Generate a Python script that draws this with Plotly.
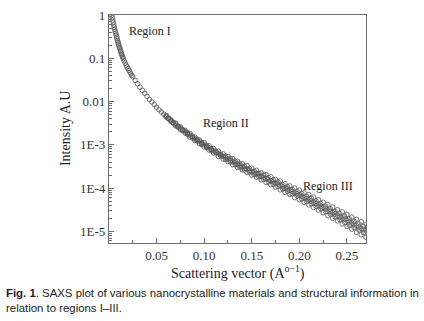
import math
import plotly.graph_objects as go

# ---- data ----
q_main = [0.003, 0.0035, 0.004, 0.0045, 0.005, 0.0055, 0.006, 0.0065, 0.007, 0.0075,
          0.008, 0.0085, 0.009, 0.0095, 0.010, 0.0105, 0.011, 0.0115, 0.012, 0.0125,
          0.013, 0.0135, 0.014, 0.0145, 0.015, 0.016, 0.017, 0.018, 0.019, 0.020,
          0.021, 0.022, 0.023, 0.024, 0.025, 0.0275, 0.030, 0.0325, 0.035, 0.0375,
          0.040, 0.0425, 0.045, 0.0475, 0.050, 0.0525, 0.055, 0.0575, 0.060, 0.0625,
          0.065, 0.0675, 0.070, 0.0725, 0.075, 0.0775, 0.080, 0.0825, 0.085, 0.0875,
          0.090, 0.0925, 0.095, 0.0975, 0.100, 0.1025, 0.105, 0.1075, 0.110, 0.1125,
          0.115, 0.1175, 0.120, 0.1225, 0.125, 0.1275, 0.130, 0.1325, 0.135, 0.1375,
          0.140, 0.1425, 0.145, 0.1475, 0.150, 0.1525, 0.155, 0.1575, 0.160, 0.1625,
          0.165, 0.1675, 0.170, 0.1725, 0.175, 0.1775, 0.180, 0.1825, 0.185, 0.1875,
          0.190, 0.1925, 0.195, 0.1975, 0.200, 0.2025, 0.205, 0.2075, 0.210, 0.2125,
          0.215, 0.2175, 0.220, 0.2225, 0.225, 0.2275, 0.230, 0.2325, 0.235, 0.2375,
          0.240, 0.2425, 0.245, 0.2475, 0.250, 0.2525, 0.255, 0.2575, 0.260, 0.2625,
          0.265, 0.2675, 0.270]

i_main = [0.977, 0.871, 0.759, 0.676, 0.589, 0.525, 0.468, 0.417, 0.380, 0.347,
          0.309, 0.282, 0.257, 0.234, 0.214, 0.195, 0.178, 0.166, 0.151, 0.141,
          0.129, 0.120, 0.112, 0.105, 0.0977, 0.0871, 0.0776, 0.0692, 0.0631, 0.0575,
          0.0525, 0.0479, 0.0437, 0.0398, 0.0372, 0.0309, 0.0257, 0.0214, 0.0182, 0.0155,
          0.0132, 0.0112, 0.00977, 0.00851, 0.00741, 0.00646, 0.00575, 0.00513, 0.00457, 0.00407,
          0.00363, 0.00324, 0.00295, 0.00263, 0.00240, 0.00219, 0.00200, 0.00182, 0.00166, 0.00151,
          0.00138, 0.00129, 0.00117, 0.00107, 0.00100, 9.12e-4, 8.51e-4, 7.76e-4, 7.24e-4, 6.76e-4,
          6.17e-4, 5.75e-4, 5.37e-4, 5.01e-4, 4.68e-4, 4.37e-4, 4.07e-4, 3.80e-4, 3.55e-4, 3.31e-4,
          3.09e-4, 2.88e-4, 2.75e-4, 2.57e-4, 2.40e-4, 2.24e-4, 2.14e-4, 2.00e-4, 1.86e-4, 1.78e-4,
          1.66e-4, 1.55e-4, 1.48e-4, 1.38e-4, 1.29e-4, 1.23e-4, 1.15e-4, 1.07e-4, 1.00e-4, 9.55e-5,
          8.91e-5, 8.32e-5, 7.76e-5, 7.41e-5, 6.92e-5, 6.46e-5, 6.03e-5, 5.62e-5, 5.37e-5, 5.01e-5,
          4.68e-5, 4.37e-5, 4.07e-5, 3.80e-5, 3.55e-5, 3.31e-5, 3.09e-5, 2.88e-5, 2.69e-5, 2.51e-5,
          2.34e-5, 2.19e-5, 2.04e-5, 1.91e-5, 1.78e-5, 1.66e-5, 1.55e-5, 1.45e-5, 1.35e-5, 1.26e-5,
          1.17e-5, 1.10e-5, 1.02e-5]

q_band = [0.060, 0.065, 0.070, 0.075, 0.080, 0.085, 0.090, 0.095, 0.100, 0.105,
          0.110, 0.115, 0.120, 0.125, 0.130, 0.135, 0.140, 0.145, 0.150, 0.155,
          0.160, 0.165, 0.170, 0.175, 0.180, 0.185, 0.190, 0.195, 0.200, 0.205,
          0.210, 0.215, 0.220, 0.225, 0.230, 0.235, 0.240, 0.245, 0.250, 0.255,
          0.260, 0.265, 0.270]

i_upper = [0.00479, 0.00380, 0.00316, 0.00257, 0.00214, 0.00182, 0.00151, 0.00129, 0.00112, 9.55e-4,
           8.13e-4, 7.08e-4, 6.17e-4, 5.37e-4, 4.79e-4, 4.17e-4, 3.63e-4, 3.31e-4, 2.88e-4, 2.57e-4,
           2.24e-4, 2.04e-4, 1.82e-4, 1.58e-4, 1.45e-4, 1.26e-4, 1.12e-4, 1.00e-4, 8.91e-5, 7.76e-5,
           7.08e-5, 6.17e-5, 5.37e-5, 4.68e-5, 4.17e-5, 3.63e-5, 3.16e-5, 2.82e-5, 2.45e-5, 2.14e-5,
           1.91e-5, 1.66e-5, 1.45e-5]

i_lower = [0.00437, 0.00347, 0.00275, 0.00224, 0.00186, 0.00151, 0.00126, 0.00107, 8.91e-4, 7.59e-4,
           6.46e-4, 5.37e-4, 4.68e-4, 4.07e-4, 3.47e-4, 3.02e-4, 2.63e-4, 2.29e-4, 2.00e-4, 1.78e-4,
           1.55e-4, 1.35e-4, 1.20e-4, 1.05e-4, 9.12e-5, 7.94e-5, 7.08e-5, 6.03e-5, 5.37e-5, 4.68e-5,
           4.07e-5, 3.55e-5, 3.09e-5, 2.69e-5, 2.29e-5, 2.00e-5, 1.74e-5, 1.48e-5, 1.29e-5, 1.12e-5,
           9.55e-6, 8.32e-6, 7.24e-6]

q_band2 = [0.0625, 0.0675, 0.0725, 0.0775, 0.0825, 0.0875, 0.0925, 0.0975, 0.1025, 0.1075,
           0.1125, 0.1175, 0.1225, 0.1275, 0.1325, 0.1375, 0.1425, 0.1475, 0.1525, 0.1575,
           0.1625, 0.1675, 0.1725, 0.1775, 0.1825, 0.1875, 0.1925, 0.1975, 0.2025, 0.2075,
           0.2125, 0.2175, 0.2225, 0.2275, 0.2325, 0.2375, 0.2425, 0.2475, 0.2525, 0.2575,
           0.2625, 0.2675]

i_upper_mid = [0.00417, 0.00331, 0.00269, 0.00224, 0.00191, 0.00158, 0.00135, 0.00112, 9.55e-4, 8.13e-4,
               7.08e-4, 6.03e-4, 5.50e-4, 4.79e-4, 4.17e-4, 3.63e-4, 3.16e-4, 2.82e-4, 2.45e-4, 2.19e-4,
               2.00e-4, 1.74e-4, 1.55e-4, 1.38e-4, 1.20e-4, 1.07e-4, 9.33e-5, 8.32e-5, 7.41e-5, 6.46e-5,
               5.75e-5, 5.01e-5, 4.37e-5, 3.80e-5, 3.31e-5, 2.88e-5, 2.57e-5, 2.24e-5, 1.95e-5, 1.70e-5,
               1.48e-5, 1.29e-5]

i_lower_mid = [0.00398, 0.00316, 0.00257, 0.00214, 0.00174, 0.00145, 0.00123, 0.00102, 8.71e-4, 7.41e-4,
               6.46e-4, 5.50e-4, 4.57e-4, 3.98e-4, 3.47e-4, 3.02e-4, 2.63e-4, 2.34e-4, 2.04e-4, 1.82e-4,
               1.58e-4, 1.38e-4, 1.23e-4, 1.10e-4, 9.55e-5, 8.51e-5, 7.41e-5, 6.61e-5, 5.62e-5, 4.90e-5,
               4.37e-5, 3.80e-5, 3.31e-5, 2.88e-5, 2.51e-5, 2.19e-5, 1.86e-5, 1.62e-5, 1.41e-5, 1.23e-5,
               1.07e-5, 9.33e-6]

x_tickvals = [0.05, 0.10, 0.15, 0.20, 0.25]
x_ticktext = ["0.05", "0.10", "0.15", "0.20", "0.25"]
y_tickvals = [1, 0.1, 0.01, 1e-3, 1e-4, 1e-5]
y_ticktext = ["1", "0.1", "0.01", "1E-3", "1E-4", "1E-5"]
region_labels = ["Region I", "Region II", "Region III"]
region_x = [0.0427, 0.1232, 0.2304]
region_y = [0.42, 3.2e-3, 1.14e-4]

# ---- styling ----
SERIF = "Liberation Serif, Times New Roman, serif"
SANS = "Liberation Sans, Arial, sans-serif"
AX = "#6e6e6e"
MK = "#555555"

marker = dict(symbol="circle-open", size=4.6, color=MK, line=dict(width=0.8, color=MK))

fig = go.Figure()
series = [(q_band, i_upper), (q_band, i_lower), (q_band2, i_upper_mid),
          (q_band2, i_lower_mid), (q_main, i_main)]
for xs, ys in series:
    fig.add_trace(go.Scatter(x=xs, y=ys, mode="markers", marker=marker,
                             showlegend=False, hoverinfo="skip"))

y_minor = [m * 10.0 ** e for e in range(-6, 0) for m in range(2, 10)]

fig.update_layout(
    width=424, height=321,
    margin=dict(l=109, r=58, t=8, b=78),
    paper_bgcolor="white", plot_bgcolor="white",
    font=dict(family=SERIF, size=13, color="#333"),
    xaxis=dict(
        range=[0.0, 0.27], showgrid=False, zeroline=False,
        showline=True, linecolor=AX, linewidth=1.3, mirror=True,
        ticks="inside", ticklen=5, tickwidth=1, tickcolor=AX,
        tickvals=x_tickvals, ticktext=x_ticktext,
        tickfont=dict(family=SERIF, size=13, color="#333"),
        minor=dict(tickvals=[0.025, 0.075, 0.125, 0.175, 0.225], ticks="inside",
                   ticklen=3, tickcolor=AX, tickwidth=1),
    ),
    yaxis=dict(
        type="log", range=[-5.27, 0.0], showgrid=False, zeroline=False,
        showline=True, linecolor=AX, linewidth=1.3, mirror=True,
        ticks="inside", ticklen=5, tickwidth=1, tickcolor=AX,
        tickvals=y_tickvals, ticktext=y_ticktext,
        tickfont=dict(family=SERIF, size=13, color="#333"),
        minor=dict(tickvals=y_minor, ticks="inside", ticklen=2.5,
                   tickcolor=AX, tickwidth=1),
    ),
)

for t, xv, yv in zip(region_labels, region_x, region_y):
    fig.add_annotation(x=xv, y=math.log10(yv), xref="x", yref="y", text=t,
                       xanchor="center", yanchor="middle",
                       showarrow=False, font=dict(family=SERIF, size=12, color="#222"))

fig.add_annotation(xref="paper", yref="paper", x=0.5, y=-0.128,
                   xanchor="center", yanchor="middle",
                   text="Scattering vector (A<sup>o\u22121</sup>)", showarrow=False,
                   font=dict(family=SERIF, size=14, color="#222"))
fig.add_annotation(xref="paper", yref="paper", x=-0.171, y=0.5, textangle=-90,
                   xanchor="center", yanchor="middle",
                   text="Intensity A.U", showarrow=False,
                   font=dict(family=SERIF, size=14, color="#222"))
fig.add_annotation(xref="paper", yref="paper", x=-0.4086, y=-0.2213, xanchor="left",
                   yanchor="middle", showarrow=False, align="left",
                   text="<b>Fig. 1</b>. SAXS plot of various nanocrystalline materials and structural information in",
                   font=dict(family=SANS, size=11.4, color="#222"))
fig.add_annotation(xref="paper", yref="paper", x=-0.4086, y=-0.285, xanchor="left",
                   yanchor="middle", showarrow=False, align="left",
                   text="relation to regions I\u2013III.",
                   font=dict(family=SANS, size=11.4, color="#222"))

fig.write_html("out.html", config={"displayModeBar": False},
               post_script="document.body.style.margin='0';")
